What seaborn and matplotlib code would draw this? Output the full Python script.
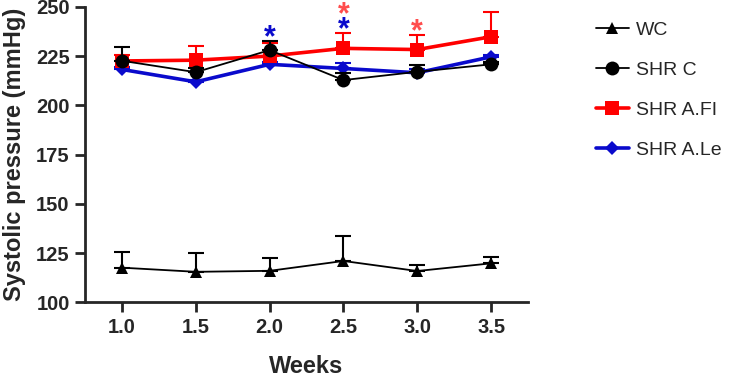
import numpy as np
import pandas as pd
import matplotlib
matplotlib.use("Agg")
import matplotlib.pyplot as plt
import seaborn as sns

# data (mean and upper SEM)
weeks = [1.0, 1.5, 2.0, 2.5, 3.0, 3.5]
groups = ["WC", "SHR C", "SHR A.FI", "SHR A.Le"]

wc_mean = [117.6, 115.5, 116.0, 121.0, 115.9, 119.8]
wc_err = [7.9, 9.4, 6.6, 12.8, 3.0, 3.2]
shrc_mean = [222.6, 216.8, 228.0, 212.8, 217.0, 220.8]
shrc_err = [7.1, 2.0, 4.7, 3.4, 3.4, 1.0]
fi_mean = [222.5, 222.9, 225.0, 228.9, 228.3, 234.8]
fi_err = [3.0, 7.3, 6.5, 7.9, 7.2, 12.4]
le_mean = [218.2, 211.9, 220.8, 218.7, 216.5, 224.6]
le_err = [1.0, 1.0, 1.0, 2.9, 2.0, 1.0]

# significance stars: (week, y, group)
stars_x = [2.0, 2.5, 2.5, 3.0]
stars_y = [237.6, 241.6, 249.0, 240.7]
stars_group = ["SHR A.Le", "SHR A.Le", "SHR A.FI", "SHR A.FI"]

means = {"WC": wc_mean, "SHR C": shrc_mean, "SHR A.FI": fi_mean, "SHR A.Le": le_mean}
errs = {"WC": wc_err, "SHR C": shrc_err, "SHR A.FI": fi_err, "SHR A.Le": le_err}

df = pd.DataFrame({
    "Weeks": weeks * len(groups),
    "Pressure": sum([means[g] for g in groups], []),
    "Group": sum([[g] * len(weeks) for g in groups], []),
})

sns.set_style("ticks")
plt.rcParams["font.family"] = ["Liberation Sans", "DejaVu Sans"]

colors = {"WC": "black", "SHR C": "black", "SHR A.FI": "#ff0000", "SHR A.Le": "#0a0acc"}
star_colors = {"SHR A.FI": "#ff4d4d", "SHR A.Le": "#0a0acc"}
markers = {"WC": "^", "SHR C": "o", "SHR A.FI": "s", "SHR A.Le": "D"}
msizes = {"WC": 9, "SHR C": 10, "SHR A.FI": 9.5, "SHR A.Le": 7}
lws = {"WC": 1.3, "SHR C": 1.3, "SHR A.FI": 2.6, "SHR A.Le": 2.6}
draw_order = ["SHR A.Le", "SHR A.FI", "SHR C", "WC"]

fig = plt.figure(figsize=(7.49, 3.77), dpi=100)
ax = fig.add_axes([0.1135, 0.198, 0.5915, 0.784])

handles = {}
for i, g in enumerate(draw_order):
    sub = df[df["Group"] == g]
    z = 3 + i
    ax.errorbar(sub["Weeks"], sub["Pressure"],
                yerr=[np.zeros(len(sub)), errs[g]], fmt="none",
                ecolor=colors[g], elinewidth=1.5, capsize=6, capthick=1.5,
                zorder=z)
    sns.lineplot(data=sub, x="Weeks", y="Pressure", ax=ax, color=colors[g],
                 marker=markers[g], markersize=msizes[g], markeredgewidth=0,
                 linewidth=lws[g], zorder=z + 0.5, label=g, legend=False)
    handles[g] = ax.lines[-1]

# the "*" glyph sits high in its box, so nudge it down a little
for sx, sy, sg in zip(stars_x, stars_y, stars_group):
    ax.annotate("*", (sx, sy), xytext=(0, -5), textcoords="offset points",
                color=star_colors[sg], fontsize=22, fontweight="bold",
                ha="center", va="center", annotation_clip=False)

ax.set_xlim(0.75, 3.75)
ax.set_ylim(100, 250)
ax.set_xticks(weeks)
ax.set_xticklabels([f"{w:.1f}" for w in weeks])
ax.set_yticks([100, 125, 150, 175, 200, 225, 250])
sns.despine(ax=ax)
for s in ["left", "bottom"]:
    ax.spines[s].set_linewidth(2)
ax.tick_params(width=2, length=7, labelsize=14.5, pad=4)
for lab in ax.get_xticklabels() + ax.get_yticklabels():
    lab.set_fontweight("bold")
ax.set_xlabel("Weeks", fontsize=17, fontweight="bold", labelpad=13)
ax.set_ylabel("Systolic pressure (mmHg)", fontsize=17, fontweight="bold", labelpad=7)

fig.legend([handles[g] for g in groups], groups, loc="upper left",
           bbox_to_anchor=(0.772, 0.99), frameon=False, fontsize=14,
           handlelength=1.7, handletextpad=0.35, labelspacing=1.15)

fig.savefig("out.png", dpi=100)
